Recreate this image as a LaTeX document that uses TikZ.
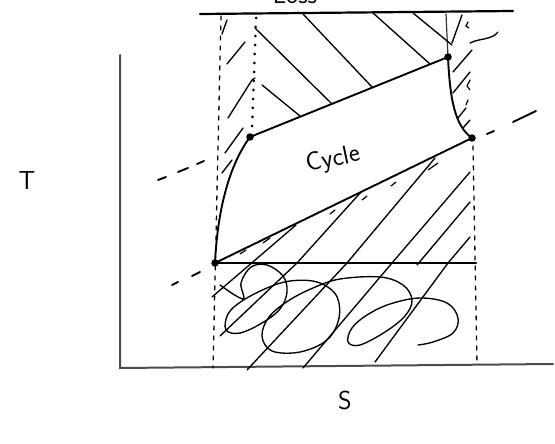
\documentclass[tikz,border=0pt]{standalone}
\usepackage{fontspec}
\begin{document}
\begin{tikzpicture}[x=1pt,y=-1pt,
  ink/.style={line width=1.9pt,line cap=round,line join=round,black},
  hatch/.style={line width=1.35pt,line cap=round,line join=round,black},
  tickmark/.style={line width=1.2pt,line cap=round,black},
  axisline/.style={line width=2pt,black!70,line cap=round},
  bound/.style={line width=1.3pt,black,dash pattern=on 4pt off 6pt,line cap=round},
  dotline/.style={line width=3pt,black,dash pattern=on 0pt off 9pt,line cap=round},
  vdot/.style={circle,fill=black,inner sep=0pt,minimum size=7.5pt},
  lbl/.style={font=\sffamily\fontsize{26}{28}\selectfont}
]
\useasboundingbox (0,0) rectangle (555,444);
\clip (0,0) rectangle (555,444);

% coordinates
\coordinate (O) at (120,368);
\coordinate (Ytop) at (120,55);
\coordinate (Xend) at (553,364);
\coordinate (TL) at (200,14);
\coordinate (TR) at (513,11);
\coordinate (ML) at (213,263);
\coordinate (MR) at (476,263);
\coordinate (A) at (215,263);
\coordinate (B) at (250,137);
\coordinate (C) at (448,57);
\coordinate (D) at (472,138);
\coordinate (LBt) at (221,16);
\coordinate (LBb) at (213,368);
\coordinate (DTt) at (256,18);
\coordinate (DTb) at (252,130);
\coordinate (RVt) at (446,14);
\coordinate (RBt) at (473,146);
\coordinate (RBb) at (477,365);

% axes
\draw[axisline] (Ytop) -- (O) -- (Xend);

% labels
\node[lbl] (Tlab) at (27,181) {T};
\node[lbl] (Slab) at (345,400) {S};
\node[lbl, rotate=12] (cyc) at (333,160) {Cycle};
\node[lbl, anchor=base] (loss) at (295,4) {Loss};

% top and middle lines
\draw[ink, line width=2.2pt] (TL) -- (TR);
\draw[ink, line width=2.8pt] (ML) -- (MR);

% boundaries
\draw[bound] (LBt) -- (LBb);
\draw[dotline] (DTt) -- (DTb);
\draw[hatch, line width=1.2pt, black!80] (RVt) -- (C);
\draw[bound] (RBt) -- (RBb);

% cycle
\draw[ink] (A) .. controls (218,200) and (233,160) .. (B);
\draw[ink] (B) -- (C);
\draw[ink] (C) .. controls (450,100) and (455,126) .. (D);
\draw[ink] (D) -- (A);
\node[vdot] (dA) at (A) {};
\node[vdot] (dB) at (B) {};
\node[vdot] (dC) at (C) {};
\node[vdot] (dD) at (D) {};

% dashed extensions
\draw[ink] (158,180) -- (166,177);
\draw[ink] (178,172) -- (188,168);
\draw[ink] (197,164) -- (204,161);
\draw[ink] (172,285) -- (178,282);
\draw[ink] (192,276) -- (200,272);
\draw[ink] (487,134) -- (494,131);
\draw[ink] (513,122) -- (536,111);
\draw[hatch] (470,43) .. controls (480,38) and (492,40) .. (498,32);

% top hatch
\draw[hatch] (255,28) -- (332,104);
\draw[hatch] (303,14) -- (372,87);
\draw[hatch] (373,13) -- (430,64);
\draw[hatch] (413,13) -- (452,45);
\draw[hatch] (262,85) -- (300,116);
% right column hatch
\draw[hatch] (452,43) -- (462,15);
\draw[hatch] (453,72) -- (472,50);
\draw[hatch] (453,93) -- (470,72);
\draw[hatch] (458,118) -- (466,108);
\draw[hatch] (463,128) -- (470,120);
\draw[tickmark] (468,22) -- (466,26) -- (469,28);
\draw[tickmark] (470,80) -- (467,86) -- (470,90);
\draw[tickmark] (468,100) -- (466,105);
% left column hatch
\draw[hatch] (227,64) -- (245,42);
\draw[hatch] (228,118) -- (252,80) -- (255,78);
\draw[hatch] (225,153) -- (243,128);
\draw[hatch] (222,173) -- (232,160);
\draw[hatch] (222,34) -- (227,20);

% lower hatch
\draw[hatch] (212,297) -- (296,225);
\draw[hatch] (220,336) -- (297,263) -- (361,192);
\draw[hatch] (247,370) -- (347,263) -- (435,158);
\draw[hatch] (303,368) -- (392,263) -- (470,172);
\draw[hatch] (375,362) -- (448,263) -- (470,237);
\draw[hatch] (417,265) -- (470,202);
% ticks under the lower edge
\draw[tickmark] (240,254) -- (246,250);
\draw[tickmark] (263,243) -- (270,238);
\draw[tickmark] (330,214) -- (335,210);
\draw[tickmark] (362,200) -- (367,196);
\draw[tickmark] (391,186) -- (396,182);
\draw[tickmark] (428,170) -- (438,163);

% coil
\draw[hatch] plot[smooth, tension=0.6] coordinates {
 (220,285) (243,299) (241,283) (251,267) (267,265) (283,276) (287,292)
 (280,309) (262,323) (240,333) (226,330) (228,314) (242,301) (267,288)
 (290,281) (317,282) (336,295) (339,318) (327,340) (300,352) (272,351)
 (262,336) (269,317) (288,301) (313,288) (340,279) (380,277) (403,285)
 (412,300) (405,316) (385,332) (360,345) (348,342) (352,328) (367,315)
 (390,304) (420,298) (447,303) (458,318) (453,333) (433,342) (418,345)};
\end{tikzpicture}
\end{document}
